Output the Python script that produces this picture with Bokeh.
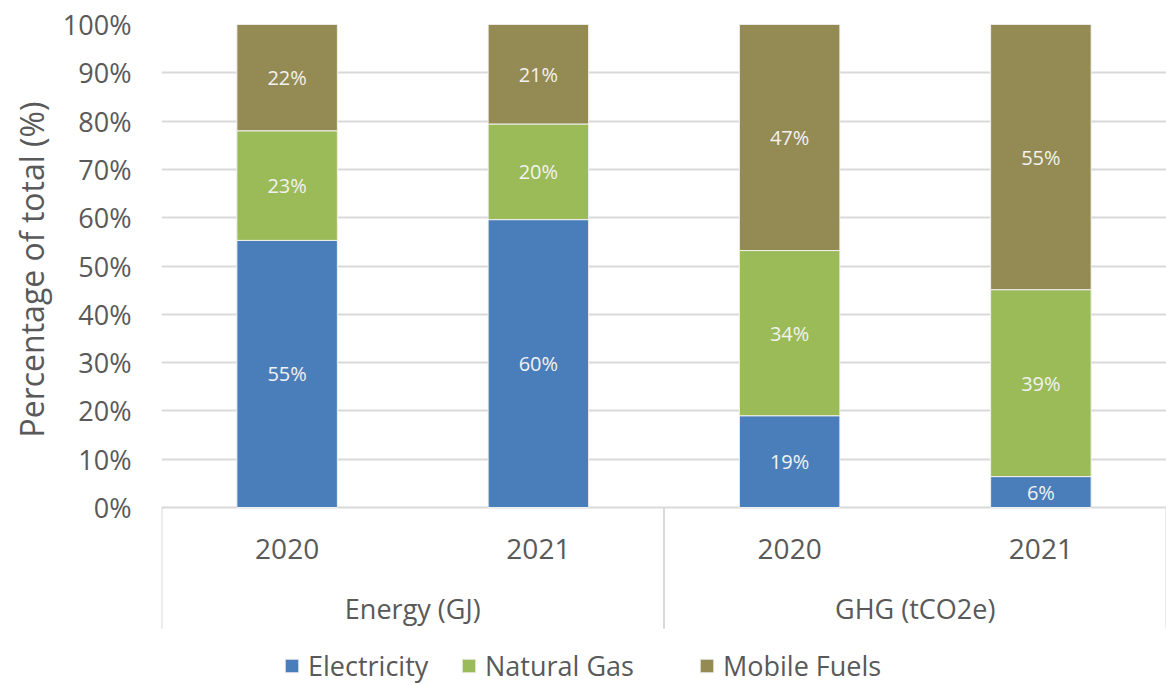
from bokeh.plotting import figure
from bokeh.models import ColumnDataSource, FixedTicker, Legend, LegendItem, Range1d, Title
from bokeh.core.properties import value
from bokeh.embed import file_html
from bokeh.resources import INLINE

# ---- data ----
groups = ["Energy (GJ)", "GHG (tCO2e)"]
group_sizes = [2, 2]
years = ["2020", "2021", "2020", "2021"]
series = ["Electricity", "Natural Gas", "Mobile Fuels"]
electricity = [55.3, 59.6, 19.0, 6.4]
natural_gas = [22.7, 19.8, 34.2, 38.7]
mobile_fuels = [22.0, 20.6, 46.8, 54.9]
y_ticks = [0, 10, 20, 30, 40, 50, 60, 70, 80, 90, 100]
y_title = "Percentage of total (%)"

colors = ["#4A7EBB", "#9BBB59", "#948A54"]
TXT = "#595959"
GRID = "#D9D9D9"
FONT = "Open Sans"

xs = [i + 0.5 for i in range(len(years))]
data = dict(x=xs)
for name, vals in zip(series, [electricity, natural_gas, mobile_fuels]):
    data[name] = vals
src = ColumnDataSource(data)

PX_PER_UNIT = 4.83
W, H = 1166, 685
TOP = 24
LEFT = 161
frame_h = H - TOP
y_bottom = 100 - frame_h / PX_PER_UNIT

p = figure(width=W, height=H, output_backend="svg", toolbar_location=None,
           x_range=Range1d(0, len(years)), y_range=Range1d(y_bottom, 100),
           x_axis_type=None, min_border_left=LEFT, min_border_top=TOP,
           min_border_bottom=0, min_border_right=0)
p.outline_line_color = None
p.background_fill_color = "white"

ticker = FixedTicker(ticks=y_ticks)
p.yaxis.ticker = ticker
p.yaxis.major_label_overrides = {t: f"{t}%" for t in y_ticks}
p.yaxis.axis_line_color = None
p.yaxis.major_tick_line_color = None
p.yaxis.major_tick_out = 0
p.yaxis.major_tick_in = 0
p.yaxis.minor_tick_line_color = None
p.yaxis.minor_tick_out = 0
p.yaxis.major_label_text_font = FONT
p.yaxis.major_label_text_font_size = "27px"
p.yaxis.major_label_text_color = TXT
p.yaxis.major_label_standoff = 30

# y-axis title placed along the 0-100 % plot area (as in the reference)
p.add_layout(Title(text=y_title, align="left", offset=241, standoff=0, padding=7,
                   text_font=FONT, text_font_size="32px", text_font_style="normal",
                   text_color=TXT), "left")

p.ygrid.ticker = ticker
p.ygrid.grid_line_color = GRID
p.ygrid.grid_line_width = 2
p.xgrid.visible = False

rends = p.vbar_stack(series, x="x", width=0.4, source=src, color=colors,
                     line_color="#F0F0F0", line_width=1)

# data labels
lx, ly, lt = [], [], []
for i in range(len(years)):
    base = 0.0
    for vals in [electricity, natural_gas, mobile_fuels]:
        v = vals[i]
        lx.append(xs[i]); ly.append(base + v / 2); lt.append(f"{round(v)}%")
        base += v
p.text(x=lx, y=ly, text=lt, text_align="center", text_baseline="middle",
       text_font=value(FONT), text_font_size="20px", text_color="#F2F2F2")

# category axis
bounds = [0]
for s in group_sizes:
    bounds.append(bounds[-1] + s)
p.segment(x0=bounds, y0=[0] * len(bounds), x1=bounds, y1=[-25.1] * len(bounds),
          line_color=GRID, line_width=2)
p.text(x=xs, y=[-8.5] * len(xs), text=years, text_align="center", text_baseline="middle",
       text_font=value(FONT), text_font_size="28px", text_color=TXT)
gx = [(bounds[i] + bounds[i + 1]) / 2 for i in range(len(groups))]
p.text(x=gx, y=[-20.9] * len(gx), text=groups, text_align="center", text_baseline="middle",
       text_font=value(FONT), text_font_size="27px", text_color=TXT)

# legend: one box per entry to match the reference spacing
legend_x = [122, 299, 537]
for s, r, lx0 in zip(series, rends, legend_x):
    lg = Legend(items=[LegendItem(label=s, renderers=[r])],
                orientation="horizontal", location=(lx0, 1),
                label_text_font=FONT, label_text_font_size="27px", label_text_color=TXT,
                glyph_width=17, glyph_height=17, label_standoff=8, spacing=0,
                padding=0, margin=0, border_line_color=None, background_fill_alpha=0)
    p.add_layout(lg)

open("out.html", "w").write(file_html(p, INLINE))
